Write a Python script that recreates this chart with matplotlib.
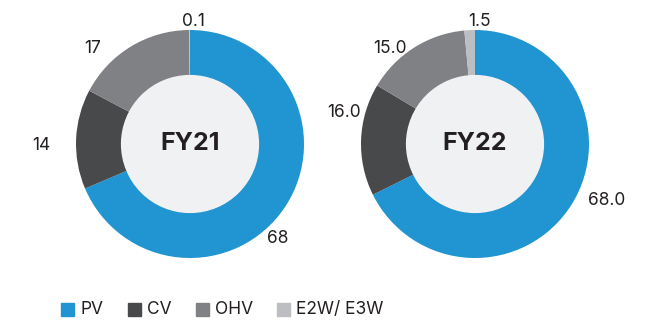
import matplotlib
matplotlib.use("Agg")
import matplotlib.pyplot as plt
from matplotlib.patches import Circle, Rectangle

plt.rcParams['font.family'] = ['Inter', 'DejaVu Sans']

segments = ["PV", "CV", "OHV", "E2W/ E3W"]
fy21_values = [68, 14, 17, 0.1]
fy22_values = [68.0, 16.0, 15.0, 1.5]
fy21_labels = ["68", "14", "17", "0.1"]
fy22_labels = ["68.0", "16.0", "15.0", "1.5"]
years = ["FY21", "FY22"]

colors = ["#2194D2", "#48494B", "#808184", "#BDBEC1"]
hole_color = "#F0F1F3"
text_color = "#231F20"

W, H = 658, 322
fig = plt.figure(figsize=(W / 100, H / 100), dpi=100)

R = 114  # outer radius in pixels
box = 320  # axes size in pixels


def donut(cx, cy, values, labels, title, label_offsets):
    ax = fig.add_axes([(cx - box / 2) / W, (H - cy - box / 2) / H, box / W, box / H])
    ax.pie(values, colors=colors, startangle=90, counterclock=False,
           radius=1.0, wedgeprops=dict(width=0.4, linewidth=0))
    ax.add_patch(Circle((0, 0), 0.6, color=hole_color, zorder=3))
    lim = box / 2 / R
    ax.set_xlim(-lim, lim)
    ax.set_ylim(-lim, lim)
    ax.set_aspect("equal")
    ax.axis("off")
    ax.text(0, 0, title, ha="center", va="center", fontsize=18,
            fontweight="bold", color=text_color, zorder=4)
    for lab, (dx, dy) in zip(labels, label_offsets):
        ax.text(dx, dy, lab, ha="center", va="center", fontsize=12.5,
                color=text_color)


# label positions (in units of the outer radius), order: PV, CV, OHV, E2W/E3W
fy21_pos = [(0.772, -0.83), (-1.303, -0.01), (-0.851, 0.84), (0.026, 1.078)]
fy22_pos = [(1.158, -0.495), (-1.149, 0.28), (-0.75, 0.84), (0.039, 1.078)]

donut(190, 144, fy21_values, fy21_labels, years[0], fy21_pos)
donut(475, 144, fy22_values, fy22_labels, years[1], fy22_pos)

# legend row
lx = [61, 128, 196, 277]
for x, name, c in zip(lx, segments, colors):
    fig.patches.append(Rectangle((x / W, (H - 316) / H), 13 / W, 13 / H,
                                 transform=fig.transFigure, color=c))
    fig.text((x + 19) / W, (H - 309.5) / H, name, ha="left", va="center",
             fontsize=12.5, color=text_color)

fig.savefig("out.png", dpi=100, facecolor="white")
